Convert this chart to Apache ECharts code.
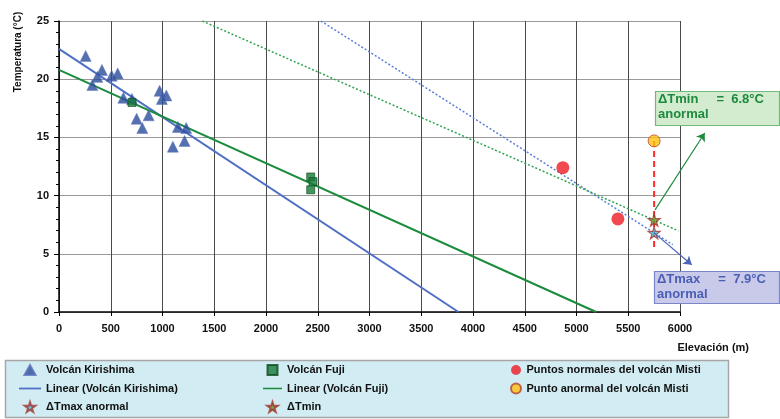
<!DOCTYPE html>
<html>
<head>
<meta charset="utf-8">
<script src="https://cdn.jsdelivr.net/npm/echarts@6/dist/echarts.min.js"></script>
<style>
  html, body { margin: 0; padding: 0; background: #fff; }
  #chart { width: 780px; height: 419px; }
</style>
</head>
<body>
<div id="chart"></div>
<script>
// Volcán Kirishima stations
var kirishimaElev = [258, 322, 370, 415, 509, 567, 622, 705, 750, 805, 866, 972, 994, 1037, 1100, 1149, 1213, 1229];
var kirishimaTemp = [22.0, 19.5, 20.2, 20.8, 20.3, 20.5, 18.4, 18.3, 16.6, 15.8, 16.9, 19.0, 18.3, 18.6, 14.2, 15.9, 14.7, 15.8];
// Volcán Fuji stations
var fujiElev = [705, 2432, 2454, 2432];
var fujiTemp = [18.0, 11.6, 11.2, 10.5];
// Misti
var mistiNormalElev = [4868, 5400];
var mistiNormalTemp = [12.4, 8.0];
var mistiAnomElev = [5750];
var mistiAnomTemp = [14.7];
// trend lines (end points)
var kirishimaFitElev = [0, 3860];
var kirishimaFitTemp = [22.6, 0];
var fujiFitElev = [0, 5190];
var fujiFitTemp = [20.8, 0];
var kirishimaShiftElev = [2530, 5930];
var kirishimaShiftTemp = [25, 5.78];
var fujiShiftElev = [1384, 5985];
var fujiShiftTemp = [25, 6.97];
// anomaly stars
var tmaxElev = [5750];
var tmaxTemp = [6.8];
var tminElev = [5750];
var tminTemp = [7.9];
var dropElev = [5750, 5750];
var dropTemp = [14.7, 5.5];
// arrows from the stars to the labels
var tmaxArrowElev = [5750, 6113];
var tmaxArrowTemp = [6.8, 4.06];
var tminArrowElev = [5759, 6239];
var tminArrowTemp = [8.78, 15.38];

var xTicks = [0, 6000, 500];
var yTicks = [0, 25, 5];

var FONT = '"Liberation Sans", Arial, sans-serif';
var STAR = 'path://M50,0 L61,35 L98,35 L68,57 L79,91 L50,70 L21,91 L32,57 L2,35 L39,35 Z';
var LINE_ICON = 'path://M0,0 H100 V8 H0 Z';
var TRI_ICON = 'path://M50,0 L100,90 L0,90 Z';
var SQ_ICON = 'path://M0,0 H100 V100 H0 Z';

function pairs(xs, ys) {
    var out = [];
    for (var i = 0; i < xs.length; i++) out.push([xs[i], ys[i]]);
    return out;
}

function legendCol(left, items, w) {
    return {
        left: left,
        top: 364,
        padding: 0,
        orient: 'vertical',
        itemGap: 6.5,
        itemWidth: w,
        itemHeight: 10,
        symbolKeepAspect: true,
        selectedMode: false,
        textStyle: { fontFamily: FONT, fontWeight: 'bold', fontSize: 11, color: '#111', lineHeight: 12 },
        data: items
    };
}

function arrow(xs, ys, color) {
    return {
        type: 'lines', coordinateSystem: 'cartesian2d', clip: false, silent: true, z: 7,
        symbol: ['none', 'arrow'], symbolSize: 8,
        lineStyle: { color: color, width: 1.2, opacity: 1 },
        data: [{ coords: pairs(xs, ys) }]
    };
}

var chart = echarts.init(document.getElementById('chart'));

var option = {
    animation: false,
    grid: { left: 59, right: 100, top: 21, bottom: 107 },
    xAxis: {
        type: 'value',
        min: xTicks[0], max: xTicks[1], interval: xTicks[2],
        axisLine: { lineStyle: { color: '#000', width: 1.5 } },
        axisTick: { show: true, length: 4, lineStyle: { color: '#000' } },
        axisLabel: {
            margin: 11, fontFamily: FONT, fontWeight: 'bold', fontSize: 11, color: '#111',
            formatter: function (v) { return String(v); }
        },
        splitLine: { show: true, lineStyle: { color: '#4a4a4a', width: 1 } }
    },
    yAxis: {
        type: 'value',
        min: yTicks[0], max: yTicks[1], interval: yTicks[2],
        axisLine: { show: true, lineStyle: { color: '#000', width: 1.5 } },
        axisTick: { show: true, length: 5, lineStyle: { color: '#000' } },
        minorTick: { show: true, splitNumber: 5, length: 3, lineStyle: { color: '#000' } },
        axisLabel: { margin: 10, fontFamily: FONT, fontWeight: 'bold', fontSize: 11, color: '#111' },
        splitLine: { show: true, lineStyle: { color: '#9a9a9a', width: 1 } }
    },
    legend: [
        legendCol(19, [
            { name: 'Volcán Kirishima', icon: TRI_ICON },
            { name: 'Linear (Volcán Kirishima)', icon: LINE_ICON },
            { name: '\u0394Tmax anormal', icon: STAR }
        ], 22),
        legendCol(263, [
            { name: 'Volcán Fuji', icon: SQ_ICON },
            { name: 'Linear (Volcán Fuji)', icon: LINE_ICON },
            { name: '\u0394Tmin', icon: STAR }
        ], 19),
        legendCol(510, [
            { name: 'Puntos normales del volcán Misti', icon: 'circle' },
            { name: 'Punto anormal del volcán Misti', icon: 'circle' }
        ], 11)
    ],
    series: [
        {
            name: 'Linear (Volcán Kirishima)', type: 'line', symbol: 'none', z: 3,
            lineStyle: { color: '#4f6fc4', width: 2 },
            itemStyle: { color: '#4f6fc4' },
            data: pairs(kirishimaFitElev, kirishimaFitTemp)
        },
        {
            name: 'Linear (Volcán Fuji)', type: 'line', symbol: 'none', z: 3,
            lineStyle: { color: '#1a8c3c', width: 2 },
            itemStyle: { color: '#1a8c3c' },
            data: pairs(fujiFitElev, fujiFitTemp)
        },
        {
            name: 'kirishima shift', type: 'line', symbol: 'none', z: 3,
            lineStyle: { color: '#5a7ed6', width: 1.5, type: [2, 2] },
            data: pairs(kirishimaShiftElev, kirishimaShiftTemp)
        },
        {
            name: 'fuji shift', type: 'line', symbol: 'none', z: 3,
            lineStyle: { color: '#2ea352', width: 1.5, type: [2, 2] },
            data: pairs(fujiShiftElev, fujiShiftTemp)
        },
        {
            name: 'drop', type: 'line', symbol: 'none', z: 3,
            lineStyle: { color: '#ff2a2a', width: 2, type: [6, 4] },
            data: pairs(dropElev, dropTemp)
        },
        arrow(tmaxArrowElev, tmaxArrowTemp, '#4a64b8'),
        arrow(tminArrowElev, tminArrowTemp, '#1e8a3e'),
        {
            name: 'Volcán Kirishima', type: 'scatter', symbol: 'triangle', symbolSize: 11, z: 5,
            itemStyle: { color: '#2b4c9b', borderColor: '#5a73b8', borderWidth: 0.6 },
            data: pairs(kirishimaElev, kirishimaTemp)
        },
        {
            name: 'Volcán Fuji', type: 'scatter', symbol: 'rect', symbolSize: 8, z: 5,
            itemStyle: { color: '#167a36', borderColor: '#0b4a1f', borderWidth: 0.8 },
            data: pairs(fujiElev, fujiTemp)
        },
        {
            name: 'Puntos normales del volcán Misti', type: 'scatter', symbol: 'circle', symbolSize: 13, z: 5,
            itemStyle: { color: '#ee1c24' },
            data: pairs(mistiNormalElev, mistiNormalTemp)
        },
        {
            name: 'Punto anormal del volcán Misti', type: 'scatter', symbol: 'circle', symbolSize: 12, z: 5,
            itemStyle: { color: '#ffc20e', borderColor: '#b5452e', borderWidth: 1 },
            data: pairs(mistiAnomElev, mistiAnomTemp)
        },
        {
            name: '\u0394Tmax anormal', type: 'scatter', symbol: STAR, symbolSize: 12, z: 6,
            itemStyle: { color: '#4cc3dc', borderColor: '#a8322a', borderWidth: 1.2 },
            data: pairs(tmaxElev, tmaxTemp)
        },
        {
            name: '\u0394Tmin', type: 'scatter', symbol: STAR, symbolSize: 12, z: 6,
            itemStyle: { color: '#5aa02c', borderColor: '#a8322a', borderWidth: 1.2 },
            data: pairs(tminElev, tminTemp)
        }
    ],
    graphic: [
        {
            type: 'rect', z: -1, silent: true,
            shape: { x: 5.5, y: 360.5, width: 723, height: 57 },
            style: { fill: '#d2ecf3', stroke: '#a6a6a6', lineWidth: 1.5 }
        },
        {
            type: 'text', x: 18, y: 52, rotation: Math.PI / 2,
            style: {
                text: 'Temperatura (°C)', fontFamily: FONT, fontWeight: 'bold', fontSize: 10,
                fill: '#111', align: 'center', verticalAlign: 'middle'
            }
        },
        {
            type: 'text', x: 749, y: 348,
            style: {
                text: 'Elevación (m)', fontFamily: FONT, fontWeight: 'bold', fontSize: 11,
                fill: '#111', align: 'right', verticalAlign: 'middle'
            }
        },
        {
            type: 'rect', z: 10,
            shape: { x: 655.5, y: 91.5, width: 124, height: 34 },
            style: { fill: '#d3ebcf', stroke: '#72b97c', lineWidth: 1.2 }
        },
        {
            type: 'text', z: 11, x: 658, y: 92,
            style: {
                text: '\u0394Tmin     =  6.8°C\nanormal', fontFamily: FONT, fontWeight: 'bold', fontSize: 13,
                lineHeight: 15, fill: '#1d8a3e', align: 'left', verticalAlign: 'top'
            }
        },
        {
            type: 'rect', z: 10,
            shape: { x: 654.5, y: 271.5, width: 125, height: 32 },
            style: { fill: '#c9c9ea', stroke: '#7b86c9', lineWidth: 1.2 }
        },
        {
            type: 'text', z: 11, x: 657, y: 272,
            style: {
                text: '\u0394Tmax     =  7.9°C\nanormal', fontFamily: FONT, fontWeight: 'bold', fontSize: 13,
                lineHeight: 15, fill: '#4a5fb4', align: 'left', verticalAlign: 'top'
            }
        }
    ]
};

chart.setOption(option);
</script>
</body>
</html>
